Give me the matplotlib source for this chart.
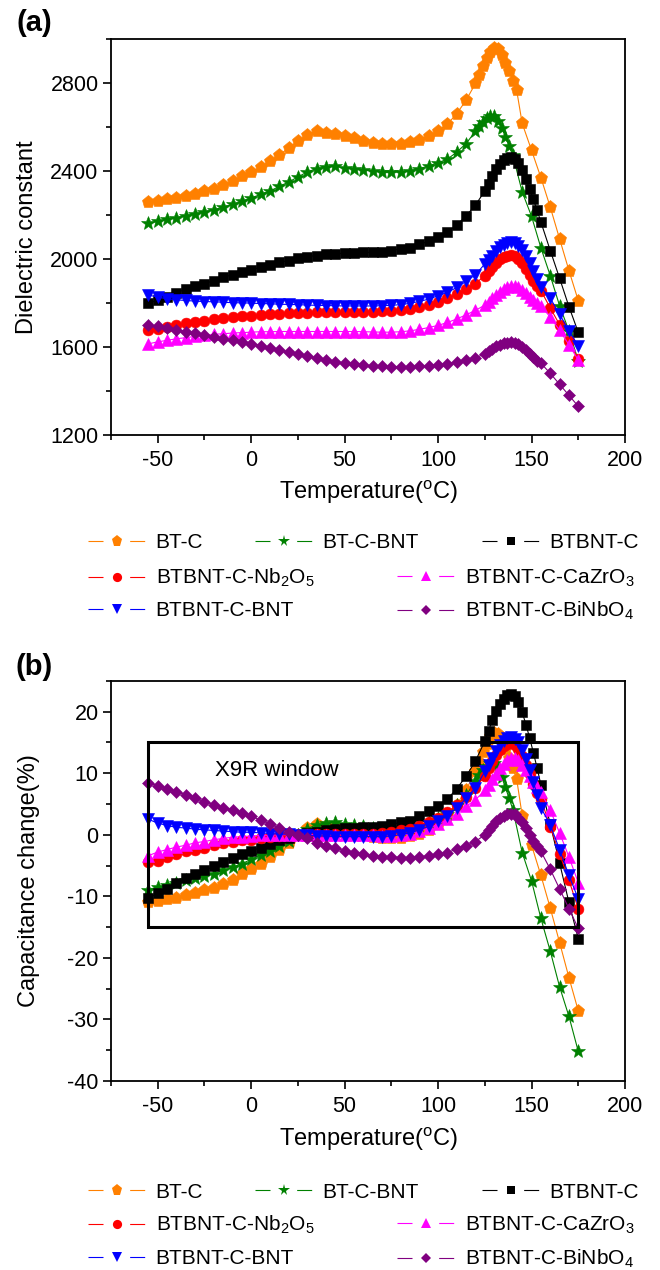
import matplotlib
matplotlib.use('Agg')
import matplotlib.pyplot as plt
from matplotlib.lines import Line2D
from matplotlib.patches import Rectangle
from matplotlib.ticker import MultipleLocator

plt.rcParams['font.family'] = ['Liberation Sans', 'DejaVu Sans']
plt.rcParams['mathtext.fontset'] = 'custom'
plt.rcParams['mathtext.rm'] = 'Liberation Sans'
plt.rcParams['mathtext.it'] = 'Liberation Sans:italic'
plt.rcParams['mathtext.bf'] = 'Liberation Sans:bold'
plt.rcParams['axes.unicode_minus'] = False

# temperature grids (deg C)
t_low = [-55, -50, -45, -40, -35, -30, -25, -20, -15, -10, -5, 0,
         5, 10, 15, 20, 25, 30, 35, 40, 45, 50, 55, 60,
         65, 70, 75, 80, 85, 90, 95, 100, 105, 110, 115, 120]
t_peak_btc = [122, 124, 126, 128, 130, 132, 134, 136, 138, 140, 142]
t_peak_btcbnt = [122, 124, 126, 128, 130, 132, 134, 136, 138, 140]
t_tail_btc = [145, 150, 155, 160, 165, 170, 175]
t_peak = [125, 127, 129, 131, 133, 135, 137, 139, 141, 143, 145, 147, 149, 151, 153, 155]
t_tail = [160, 165, 170, 175]

# BT-C
eps_btc = [2258, 2263, 2270, 2278, 2287, 2296, 2307, 2319, 2334, 2352, 2375, 2395,
           2417, 2445, 2472, 2503, 2536, 2563, 2580, 2574, 2566, 2559, 2547, 2536,
           2528, 2524, 2521, 2524, 2531, 2542, 2557, 2582, 2612, 2660, 2721, 2797,
           2835, 2875, 2912, 2942, 2958, 2952, 2928, 2892, 2852, 2810, 2767,
           2615, 2493, 2369, 2235, 2091, 1947, 1810]
cap_btc = [-11.0, -10.8, -10.5, -10.2, -9.8, -9.5, -9.0, -8.6, -8.0, -7.3, -6.3, -5.6,
           -4.7, -3.6, -2.5, -1.3, 0.0, 1.1, 1.7, 1.5, 1.2, 0.9, 0.4, 0.0,
           -0.3, -0.5, -0.6, -0.5, -0.2, 0.2, 0.8, 1.8, 3.0, 4.9, 7.3, 10.3,
           11.8, 13.4, 14.8, 16.0, 16.6, 16.4, 15.5, 14.0, 12.5, 10.8, 9.1,
           3.1, -1.7, -6.6, -11.9, -17.5, -23.2, -28.6]

# BT-C-BNT
eps_btcbnt = [2162, 2171, 2179, 2187, 2196, 2205, 2214, 2223, 2235, 2247, 2261, 2276,
              2293, 2308, 2329, 2349, 2372, 2395, 2410, 2417, 2420, 2413, 2410, 2405,
              2398, 2395, 2394, 2395, 2400, 2410, 2422, 2437, 2453, 2485, 2524, 2580,
              2602, 2622, 2638, 2650, 2648, 2628, 2595, 2555, 2512, 2470,
              2304, 2193, 2050, 1924, 1787, 1673, 1537]
cap_btcbnt = [-8.9, -8.5, -8.1, -7.8, -7.4, -7.0, -6.7, -6.3, -5.8, -5.3, -4.7, -4.0,
              -3.3, -2.7, -1.8, -1.0, 0.0, 1.0, 1.6, 1.9, 2.0, 1.7, 1.6, 1.4,
              1.1, 1.0, 0.9, 1.0, 1.2, 1.6, 2.1, 2.7, 3.4, 4.8, 6.4, 8.8,
              9.7, 10.5, 11.2, 11.7, 11.6, 10.8, 9.4, 7.7, 5.9, 4.1,
              -2.9, -7.5, -13.6, -18.9, -24.7, -29.5, -35.2]

# BTBNT-C
eps_btbntc = [1798, 1813, 1828, 1846, 1862, 1877, 1888, 1901, 1916, 1928, 1941, 1951,
              1962, 1974, 1985, 1992, 2004, 2010, 2015, 2020, 2023, 2026, 2027, 2029,
              2030, 2033, 2038, 2045, 2050, 2066, 2080, 2099, 2121, 2154, 2195, 2245,
              2308, 2342, 2376, 2406, 2430, 2447, 2458, 2462, 2455, 2435, 2402, 2362,
              2318, 2270, 2220, 2167,
              2038, 1912, 1783, 1666]
cap_btbntc = [-10.3, -9.5, -8.8, -7.9, -7.1, -6.3, -5.8, -5.1, -4.4, -3.8, -3.1, -2.6,
              -2.1, -1.5, -0.9, -0.6, 0.0, 0.3, 0.5, 0.8, 0.9, 1.1, 1.1, 1.2,
              1.3, 1.4, 1.7, 2.0, 2.3, 3.1, 3.8, 4.7, 5.8, 7.5, 9.5, 12.0,
              15.2, 16.9, 18.6, 20.1, 21.3, 22.1, 22.7, 22.9, 22.5, 21.5, 19.9, 17.9,
              15.7, 13.3, 10.8, 8.1,
              1.7, -4.6, -11.0, -16.9]

# BTBNT-C-Nb2O5
eps_nb = [1676, 1682, 1692, 1701, 1707, 1713, 1719, 1725, 1730, 1734, 1739, 1741,
          1745, 1748, 1751, 1753, 1755, 1756, 1757, 1758, 1758, 1758, 1758, 1758,
          1759, 1761, 1764, 1768, 1773, 1781, 1792, 1805, 1820, 1840, 1862, 1888,
          1924, 1945, 1965, 1983, 1998, 2008, 2014, 2016, 2012, 2000, 1980, 1955,
          1928, 1900, 1875, 1856,
          1777, 1701, 1625, 1544]
cap_nb = [-4.5, -4.2, -3.6, -3.1, -2.7, -2.4, -2.1, -1.7, -1.4, -1.2, -0.9, -0.8,
          -0.6, -0.4, -0.2, -0.1, 0.0, 0.1, 0.1, 0.2, 0.2, 0.2, 0.2, 0.2,
          0.2, 0.3, 0.5, 0.7, 1.0, 1.5, 2.1, 2.8, 3.7, 4.8, 6.1, 7.6,
          9.6, 10.8, 12.0, 13.0, 13.8, 14.4, 14.8, 14.9, 14.6, 14.0, 12.8, 11.4,
          9.9, 8.3, 6.8, 5.8,
          1.3, -3.1, -7.4, -12.0]

# BTBNT-C-CaZrO3
eps_cz = [1614, 1623, 1630, 1637, 1642, 1648, 1652, 1657, 1660, 1663, 1665, 1667,
          1669, 1669, 1670, 1670, 1670, 1670, 1670, 1670, 1670, 1670, 1670, 1669,
          1668, 1667, 1667, 1669, 1673, 1680, 1688, 1698, 1711, 1727, 1746, 1766,
          1790, 1805, 1820, 1835, 1850, 1862, 1872, 1877, 1878, 1872, 1860, 1845,
          1828, 1812, 1798, 1785,
          1736, 1675, 1610, 1540]
cap_cz = [-3.4, -2.8, -2.4, -2.0, -1.7, -1.3, -1.1, -0.8, -0.6, -0.4, -0.3, -0.2,
          -0.1, -0.1, 0.0, 0.0, 0.0, 0.0, 0.0, 0.0, 0.0, 0.0, 0.0, -0.1,
          -0.1, -0.2, -0.2, -0.1, 0.2, 0.6, 1.1, 1.7, 2.5, 3.4, 4.6, 5.7,
          7.2, 8.1, 9.0, 9.9, 10.8, 11.5, 12.1, 12.4, 12.5, 12.1, 11.4, 10.5,
          9.5, 8.5, 7.7, 6.9,
          4.0, 0.3, -3.6, -7.8]

# BTBNT-C-BNT
eps_bnt = [1836, 1826, 1819, 1814, 1811, 1808, 1806, 1805, 1803, 1801, 1800, 1799,
           1797, 1796, 1794, 1793, 1792, 1790, 1789, 1788, 1787, 1786, 1786, 1786,
           1786, 1787, 1789, 1792, 1798, 1807, 1817, 1833, 1848, 1870, 1898, 1928,
           1977, 1995, 2015, 2035, 2052, 2065, 2073, 2076, 2072, 2060, 2040, 2012,
           1980, 1945, 1908, 1871,
           1821, 1749, 1673, 1605]
cap_bnt = [2.5, 1.9, 1.5, 1.2, 1.1, 0.9, 0.8, 0.7, 0.6, 0.5, 0.4, 0.4,
           0.3, 0.2, 0.1, 0.1, 0.0, -0.1, -0.2, -0.2, -0.3, -0.3, -0.3, -0.3,
           -0.3, -0.3, -0.2, 0.0, 0.3, 0.8, 1.4, 2.3, 3.1, 4.4, 5.9, 7.6,
           10.3, 11.3, 12.4, 13.6, 14.5, 15.2, 15.7, 15.8, 15.6, 15.0, 13.8, 12.3,
           10.5, 8.5, 6.5, 4.4,
           1.6, -2.4, -6.6, -10.4]

# BTBNT-C-BiNbO4
eps_bi = [1700, 1693, 1686, 1678, 1670, 1661, 1653, 1645, 1637, 1630, 1623, 1615,
          1606, 1596, 1585, 1576, 1568, 1558, 1548, 1540, 1533, 1527, 1522, 1518,
          1515, 1512, 1511, 1510, 1510, 1512, 1514, 1518, 1523, 1532, 1540, 1551,
          1568, 1580, 1592, 1603, 1611, 1617, 1620, 1621, 1619, 1612, 1600, 1585,
          1568, 1552, 1538, 1526,
          1480, 1430, 1380, 1330]
cap_bi = [8.4, 8.0, 7.5, 7.0, 6.5, 5.9, 5.4, 4.9, 4.4, 4.0, 3.5, 3.0,
          2.4, 1.8, 1.1, 0.5, 0.0, -0.6, -1.3, -1.8, -2.2, -2.6, -2.9, -3.2,
          -3.4, -3.6, -3.6, -3.7, -3.7, -3.6, -3.4, -3.2, -2.9, -2.3, -1.8, -1.1,
          0.0, 0.8, 1.5, 2.2, 2.7, 3.1, 3.3, 3.4, 3.3, 2.8, 2.0, 1.1,
          0.0, -1.0, -1.9, -2.7,
          -5.6, -8.8, -12.0, -15.2]

labels = ['BT-C', 'BT-C-BNT', 'BTBNT-C', 'BTBNT-C-Nb$_2$O$_5$',
          'BTBNT-C-CaZrO$_3$', 'BTBNT-C-BNT', 'BTBNT-C-BiNbO$_4$']

# X9R window limits
x9r_t = (-55, 175)
x9r_pct = (-15, 15)


def style_axes(ax, ylim, ymajor, yminor, ylabel):
    ax.set_xlim(-75, 200)
    ax.set_ylim(*ylim)
    ax.xaxis.set_major_locator(MultipleLocator(50))
    ax.xaxis.set_minor_locator(MultipleLocator(25))
    ax.yaxis.set_major_locator(MultipleLocator(ymajor))
    ax.yaxis.set_minor_locator(MultipleLocator(yminor))
    ax.tick_params(which='both', direction='out', top=False, right=False,
                   labelsize=15.5, width=1.2)
    ax.tick_params(which='major', length=6)
    ax.tick_params(which='minor', length=3.5)
    ax.tick_params(axis='x', pad=5)
    ax.tick_params(axis='y', pad=3)
    for sp in ax.spines.values():
        sp.set_linewidth(1.3)
    ax.set_xlabel('Temperature($^\\mathrm{o}$C)', fontsize=17, va='center')
    ax.set_ylabel(ylabel, fontsize=17, va='center')


def add_legend(fig, handles, y_rows):
    # (series index, line start x px, row index)
    spots = [(0, 88, 0), (1, 255, 0), (2, 482, 0),
             (3, 88, 1), (4, 397, 1), (5, 88, 2), (6, 397, 2)]
    for idx, xpx, row in spots:
        fig.legend([handles[idx]], [labels[idx]], loc='center left',
                   bbox_to_anchor=(xpx / 660, 1 - y_rows[row] / 1270),
                   frameon=False, borderpad=0, borderaxespad=0,
                   handlelength=2.8, handletextpad=0.45, numpoints=1,
                   fontsize=15)


def main():
    temps = [t_low + t_peak_btc + t_tail_btc,
             t_low + t_peak_btcbnt + t_tail_btc,
             t_low + t_peak + t_tail,
             t_low + t_peak + t_tail,
             t_low + t_peak + t_tail,
             t_low + t_peak + t_tail,
             t_low + t_peak + t_tail]
    eps = [eps_btc, eps_btcbnt, eps_btbntc, eps_nb, eps_cz, eps_bnt, eps_bi]
    cap = [cap_btc, cap_btcbnt, cap_btbntc, cap_nb, cap_cz, cap_bnt, cap_bi]
    colors = ['#FF8000', '#008000', '#000000', '#FF0000', '#FF00FF', '#0000FF', '#800080']
    markers = ['p', '*', 's', 'o', '^', 'v', 'D']
    sizes = [9.5, 10, 7.2, 7.8, 8.5, 8.5, 6.5]

    fig = plt.figure(figsize=(6.6, 12.7), dpi=100)
    ax_a = fig.add_axes([0.1682, 0.6575, 0.7788, 0.3120])
    ax_b = fig.add_axes([0.1682, 0.1488, 0.7788, 0.3151])

    proxies = []
    for i in range(len(eps)):
        ax_a.plot(temps[i], eps[i], color=colors[i], marker=markers[i],
                  markersize=sizes[i], markeredgewidth=0.4, linewidth=0.8)
        ax_b.plot(temps[i], cap[i], color=colors[i], marker=markers[i],
                  markersize=sizes[i], markeredgewidth=0.4, linewidth=0.8)
        # legend handle: short line pieces either side of the marker
        proxies.append(Line2D([], [], color=colors[i], marker=markers[i],
                              markersize=sizes[i] * 0.85, markeredgewidth=0,
                              linewidth=0.8, dashes=(13.5, 24)))

    ax_b.add_patch(Rectangle((x9r_t[0], x9r_pct[0]), x9r_t[1] - x9r_t[0],
                             x9r_pct[1] - x9r_pct[0], fill=False,
                             edgecolor='black', linewidth=2.2, zorder=5))
    ax_b.text(-19.5, 10.4, 'X9R window', fontsize=16, ha='left', va='center')

    style_axes(ax_a, (1200, 3000), 400, 200, 'Dielectric constant')
    style_axes(ax_b, (-40, 25), 10, 5, 'Capacitance change(%)')
    ax_a.xaxis.set_label_coords(0.5, -0.146)
    ax_b.xaxis.set_label_coords(0.5, -0.145)
    ax_a.yaxis.set_label_coords(-0.163, 0.5)
    ax_b.yaxis.set_label_coords(-0.160, 0.5)

    add_legend(fig, proxies, [543, 578, 611])
    add_legend(fig, proxies, [1192, 1225, 1259])

    fig.text(34 / 660, 1 - 23 / 1270, '(a)', fontsize=21, fontweight='bold',
             ha='center', va='center')
    fig.text(34 / 660, 1 - 667 / 1270, '(b)', fontsize=21, fontweight='bold',
             ha='center', va='center')

    fig.savefig('out.png', dpi=100)


main()
